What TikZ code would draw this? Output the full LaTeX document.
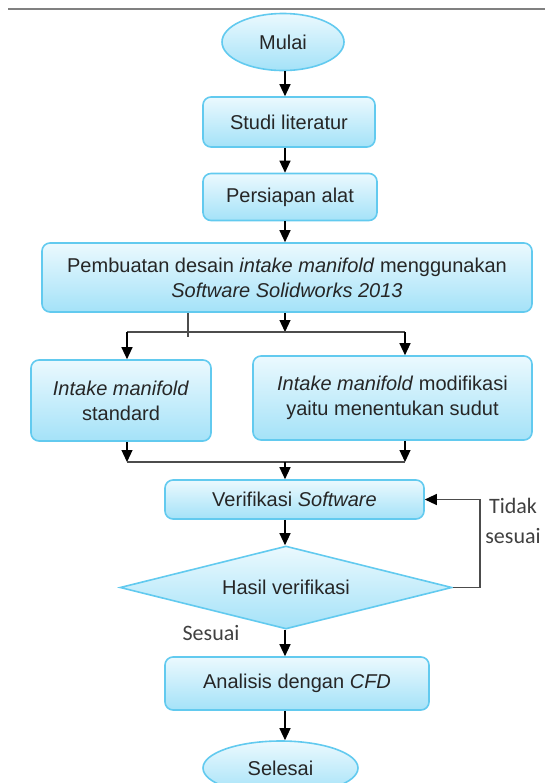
\documentclass[tikz,border=0pt]{standalone}
\usepackage{fontspec}
\setmainfont{Liberation Sans}
\newfontfamily\carlito{Carlito}
\usetikzlibrary{shapes.geometric,arrows.meta}
\definecolor{boxline}{HTML}{62CAEF}
\definecolor{boxtop}{HTML}{EBF9FE}
\definecolor{boxbot}{HTML}{A4E2F8}
\begin{document}
\begin{tikzpicture}[x=0.5pt,y=-0.5pt,
	shaded/.style={draw=boxline,line width=0.8pt,top color=boxtop,bottom color=boxbot,font=\fontsize{10}{12.5}\selectfont,align=center,inner sep=0pt,text=black!85},
	flowbox/.style={shaded,rectangle,rounded corners=4pt},
	term/.style={shaded,ellipse},
	check/.style={shaded,diamond,aspect=4},
	note/.style={font=\carlito\fontsize{11}{15}\selectfont,text=black!75,align=center},
	wire/.style={draw=black!70,line width=0.6pt},
	flow/.style={-{Triangle[width=5.5pt,length=6pt,color=black]},line width=0.6pt}]
	\useasboundingbox(0,0)rectangle(545,783);
	\draw[gray,line width=0.8pt](8,9)--(545,9);
	\node(start)at(283,42)[term,minimum width=61pt,minimum height=28.5pt]{Mulai};
	\node(lit)at(289,122)[flowbox,minimum width=86pt,minimum height=25pt]{Studi literatur};
	\node(prep)at(290,197)[flowbox,minimum width=87pt,minimum height=23.5pt]{Persiapan alat};
	\node(design)at(287,277.5)[flowbox,minimum width=245pt,minimum height=34.5pt]{Pembuatan desain \textit{intake manifold} menggunakan\\\textit{Software Solidworks 2013}};
	\node(std)at(121,400.5)[flowbox,minimum width=90pt,minimum height=40.5pt]{\textit{Intake manifold}\\standard};
	\node(mod)at(392.5,398)[flowbox,minimum width=139.5pt,minimum height=42pt]{\textit{Intake manifold} modifikasi\\yaitu menentukan sudut};
	\node(verif)at(294.5,499.5)[flowbox,minimum width=129.5pt,minimum height=19.5pt]{Verifikasi \textit{Software}};
	\node(hasil)at(286,587.5)[check,minimum width=166pt,minimum height=41.5pt]{Hasil verifikasi};
	\node(cfd)at(297,683.5)[flowbox,minimum width=132pt,minimum height=26.5pt]{Analisis dengan \textit{CFD}};
	\node(finish)at(280.5,768)[term,minimum width=77.5pt,minimum height=27pt]{Selesai};
	\node(no)at(513,521)[note]{Tidak\\sesuai};
	\node(yes)at(211,633)[note]{Sesuai};
	% branch and merge points
	\coordinate(xa)at(285,0);
	\coordinate(fork)at(0,332);
	\coordinate(fl)at(127,332);
	\coordinate(fr)at(405,332);
	\coordinate(jl)at(127,462);
	\coordinate(jr)at(405,462);
	\coordinate(tick)at(188,337);
	\coordinate(fb)at(480,0);
	\draw[flow](start.south-|xa)--(lit.north-|xa);
	\draw[flow](lit.south-|xa)--(prep.north-|xa);
	\draw[flow](prep.south-|xa)--(design.north-|xa);
	\draw[wire](design.south-|tick)--(tick);
	\draw[flow](design.south-|xa)--(fork-|xa);
	\draw[wire](fl)--(fr);
	\draw[flow](fl)--(std.north-|fl);
	\draw[flow](fr)--(mod.north-|fr);
	\draw[flow](std.south-|jl)--(jl);
	\draw[flow](mod.south-|jr)--(jr);
	\draw[wire](jl)--(jr);
	\draw[flow](xa|-jl)--(verif.north-|xa);
	\draw[flow](verif.south-|xa)--(hasil.north-|xa);
	\draw[flow](hasil.south-|xa)--(cfd.north-|xa);
	\draw[flow](cfd.south-|xa)--(finish.north-|xa);
	\draw[wire,flow](hasil.east)--(hasil.east-|fb)|-(verif.east);
\end{tikzpicture}
\end{document}
